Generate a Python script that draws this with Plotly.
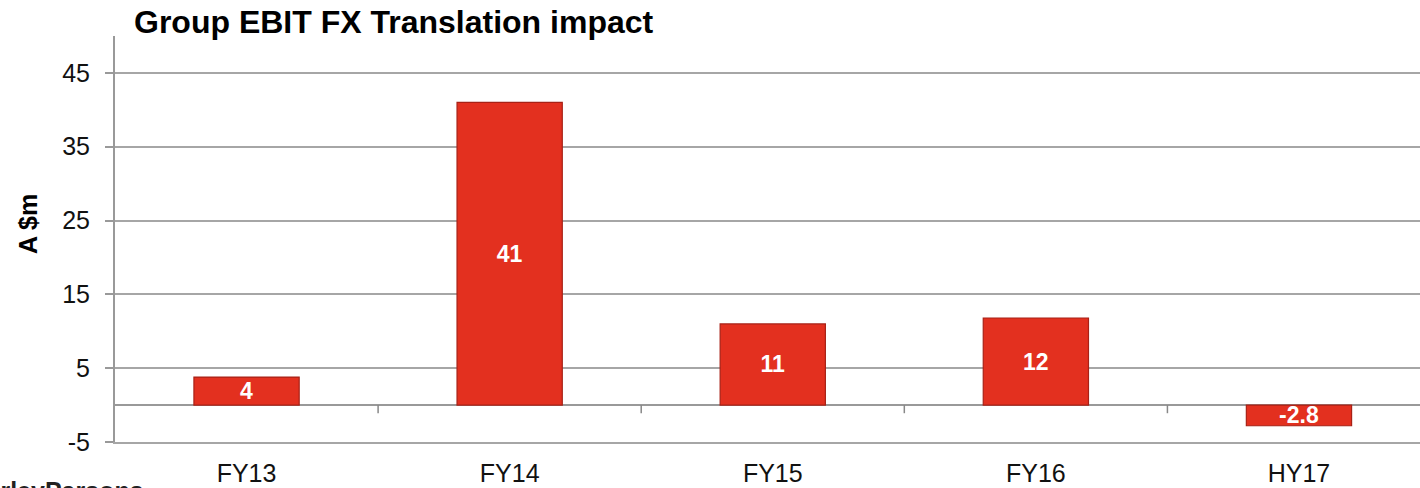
import plotly.graph_objects as go

categories = ["FY13", "FY14", "FY15", "FY16", "HY17"]
values = [3.8, 41, 11, 11.8, -2.8]
labels = ["4", "41", "11", "12", "-2.8"]
y_ticks = [-5, 5, 15, 25, 35, 45]
y_tick_text = ["-5", "5", "15", "25", "35", "45"]

FONT = "Liberation Sans, Arial, sans-serif"
GRID = "#A6A6A6"

fig = go.Figure()
fig.add_trace(go.Bar(
    x=list(range(len(categories))),
    y=values,
    width=0.40,
    text=labels,
    textposition="inside",
    insidetextanchor="middle",
    textangle=0,
    constraintext="none",
    textfont=dict(family=FONT, size=23, color="white", weight="bold"),
    marker=dict(color="#E3301F", line=dict(color="#A82116", width=1.2)),
    cliponaxis=False,
    showlegend=False,
))

# small tick marks on the zero line, between categories
shapes = []
for i in range(len(categories) - 1):
    shapes.append(dict(type="line", xref="x", yref="y", x0=i + 0.5, x1=i + 0.5,
                       y0=0, y1=-1.1, line=dict(color="#888888", width=1.5)))

fig.update_layout(
    width=1420, height=488,
    margin=dict(l=115, r=0, t=36, b=46),
    paper_bgcolor="white", plot_bgcolor="white",
    shapes=shapes,
    font=dict(family=FONT, color="#111111"),
    annotations=[
        dict(text="<b>Group EBIT FX Translation impact</b>", xref="paper", yref="paper",
             x=(132 - 115) / 1305, y=1 + (36 - 22) / 406, xanchor="left", yanchor="middle",
             showarrow=False, font=dict(family=FONT, size=32, color="black")),
        dict(text="<b>A $m</b>", xref="paper", yref="paper",
             x=-(115 - 28) / 1305, y=(442 - 224) / 406, textangle=-90,
             xanchor="center", yanchor="middle", showarrow=False,
             font=dict(family=FONT, size=25, color="black")),
        dict(text="<b>WorleyParsons</b>", xref="paper", yref="paper",
             x=(146 - 115) / 1305, y=-(475 - 442) / 406, xanchor="right", yanchor="top",
             showarrow=False, font=dict(family=FONT, size=25, color="#222222")),
    ],
)
fig.update_xaxes(
    range=[-0.5, 4.46],
    tickmode="array", tickvals=list(range(len(categories))), ticktext=categories,
    tickfont=dict(family=FONT, size=25, color="#111111"),
    showgrid=False, zeroline=False,
    showline=True, linecolor=GRID, linewidth=1.5,
    ticks="", ticklabelstandoff=8, automargin=False,
)
fig.update_yaxes(
    range=[-5, 50],
    tickmode="array", tickvals=y_ticks, ticktext=y_tick_text,
    tickfont=dict(family=FONT, size=25, color="#111111"),
    showgrid=True, gridcolor=GRID, gridwidth=1.5,
    zeroline=True, zerolinecolor="#999999", zerolinewidth=2,
    showline=True, linecolor="#999999", linewidth=2,
    ticks="outside", ticklen=8, tickcolor="#999999", tickwidth=1.5,
    ticklabelstandoff=10, automargin=False,
)

fig.write_html("out.html")
